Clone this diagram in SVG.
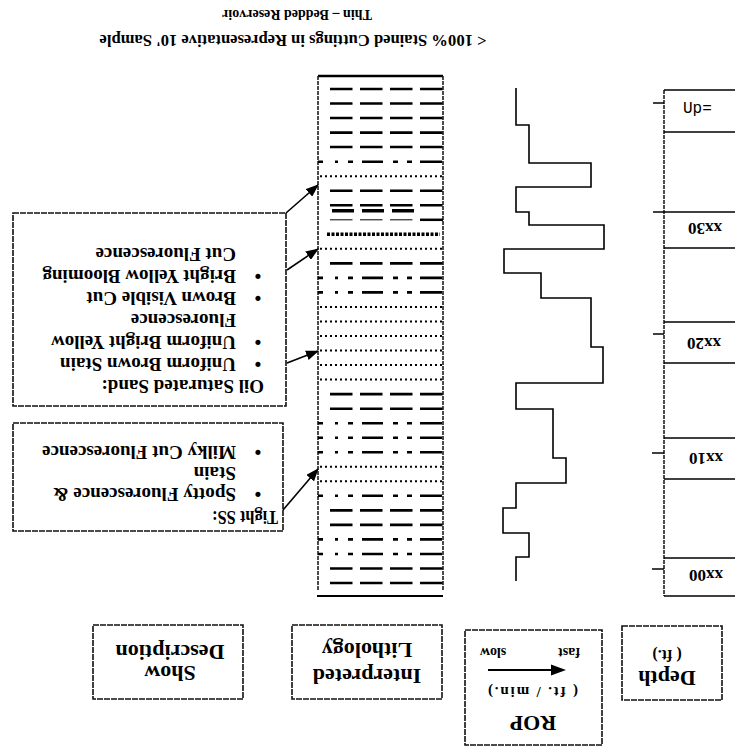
<svg xmlns="http://www.w3.org/2000/svg" width="735" height="747" viewBox="0 0 735 747">
<style>
.t{font-family:"Liberation Serif","Times New Roman",serif;font-weight:bold;fill:#000}
.b{font-size:19px}
.h{font-size:22px}
.box{fill:#fff;stroke:#111;stroke-width:1.6;stroke-dasharray:6 1}
.ln{fill:none;stroke:#000}
.bd{fill:none;stroke:#111;stroke-width:1.5;stroke-dasharray:4 1}
.con{fill:none;stroke:#000;stroke-width:1.6}
</style>
<defs>
<marker id="ah" markerWidth="13" markerHeight="10" refX="12" refY="5" orient="auto" markerUnits="userSpaceOnUse"><path d="M0,0 L13,5 L0,10 z" fill="#000"/></marker>
<g id="rD"><line class="ln" x1="330" x2="443" y1="0" y2="0" stroke-width="2.6" stroke-dasharray="22.5 7.5"/></g>
<g id="rS"><line class="ln" x1="318" x2="442" y1="0" y2="0" stroke-width="2.6" stroke-dasharray="5 12 3 10 5 9 21 10 5 9 5 8 22"/></g>
<g id="rP"><line class="ln" x1="320" x2="442" y1="0" y2="0" stroke-width="2" stroke-dasharray="2 3"/></g>
</defs>
<rect width="735" height="747" fill="#fff"/>

<g id="title">
<text class="t" font-size="17" text-anchor="middle" x="293" y="34.5" textLength="387" lengthAdjust="spacingAndGlyphs" transform="rotate(180 293 34.5)">&lt; 100% Stained Cuttings in Representative 10' Sample</text>
<text class="t" font-size="14" text-anchor="middle" x="297" y="9.5" transform="rotate(180 297 9.5)">Thin – Bedded Reservoir</text>
</g>

<g id="depth-column">
<line class="bd" x1="664" y1="90" x2="664" y2="596"/>
<g class="ln" stroke-width="1.5">
<line x1="664" y1="90" x2="735" y2="90"/>
<line x1="664" y1="132" x2="735" y2="132"/>
<line x1="664" y1="212" x2="735" y2="212"/>
<line x1="664" y1="248" x2="735" y2="248"/>
<line x1="664" y1="322" x2="735" y2="322"/>
<line x1="664" y1="363" x2="735" y2="363"/>
<line x1="664" y1="438" x2="735" y2="438"/>
<line x1="664" y1="479" x2="735" y2="479"/>
<line x1="664" y1="558" x2="735" y2="558"/>
<line x1="664" y1="596" x2="735" y2="596"/>
<line x1="653" y1="103" x2="664" y2="103"/>
<line x1="653" y1="212" x2="664" y2="212"/>
<line x1="653" y1="334" x2="664" y2="334"/>
<line x1="652" y1="453" x2="664" y2="453"/>
<line x1="652" y1="569" x2="664" y2="569"/>
</g>
<text x="683" y="113" font-family="'Liberation Mono','Courier New',monospace" font-size="16" fill="#000">Up=</text>
<text class="t" font-size="17" x="722" y="223" transform="rotate(180 722 223)">xx30</text>
<text class="t" font-size="17" x="721" y="338" transform="rotate(180 721 338)">xx20</text>
<text class="t" font-size="17" x="723" y="453" transform="rotate(180 723 453)">xx10</text>
<text class="t" font-size="17" x="723" y="570" transform="rotate(180 723 570)">xx00</text>
</g>

<g id="rop-curve">
<polyline class="ln" stroke-width="1.6" points="516,88 516,125 529,125 529,163 591,163 591,187 516,187 516,212 529,212 529,225 604,225 604,249 504,249 504,273 541,273 541,298 591,298 591,347 603,347 603,383 516,383 516,409 553,409 553,458 566,458 566,483 516,483 516,508 503,508 503,533 529,533 529,557 516,557 516,581"/>
</g>

<g id="lithology-column">
<line class="ln" x1="318" y1="76" x2="443" y2="76" stroke-width="2.5"/>
<line class="bd" x1="318" y1="76" x2="318" y2="590"/>
<line class="bd" x1="443" y1="76" x2="443" y2="590"/>
<line class="ln" x1="317" y1="596" x2="443" y2="596" stroke-width="1.8"/>
<use href="#rD" y="89"/>
<use href="#rD" y="103.5"/>
<use href="#rD" y="118"/>
<use href="#rD" y="132.6"/>
<use href="#rD" y="147"/>
<use href="#rS" y="161.7"/>
<use href="#rP" y="176.2"/>
<use href="#rD" y="190.7"/>
<use href="#rD" y="205.2"/>
<line class="ln" x1="332" x2="415" y1="210.8" y2="210.8" stroke-width="3.5" stroke-dasharray="22 8"/>
<line class="ln" x1="330" x2="413" y1="219.8" y2="219.8" stroke="#ccc" stroke-width="1" stroke-dasharray="22.5 7.5"/>
<line class="ln" x1="420" x2="443" y1="219.8" y2="219.8" stroke-width="2.5"/>
<line class="ln" x1="327" x2="440" y1="234.3" y2="234.3" stroke-width="3.5" stroke-dasharray="3 1.5"/>
<use href="#rP" y="248.8"/>
<use href="#rD" y="263.4"/>
<use href="#rS" y="277.9"/>
<use href="#rS" y="292.4"/>
<use href="#rP" y="307"/>
<use href="#rP" y="321.5"/>
<use href="#rP" y="336"/>
<use href="#rP" y="350.5"/>
<use href="#rP" y="365.1"/>
<use href="#rP" y="379.6"/>
<use href="#rD" y="394.1"/>
<use href="#rD" y="408.7"/>
<use href="#rS" y="423.2"/>
<use href="#rS" y="437.7"/>
<use href="#rS" y="452.3"/>
<use href="#rP" y="466.8"/>
<use href="#rP" y="481.3"/>
<use href="#rS" y="495.8"/>
<use href="#rD" y="510.4"/>
<use href="#rD" y="524.9"/>
<use href="#rS" y="539.4"/>
<use href="#rS" y="554"/>
<use href="#rD" y="568.5"/>
<use href="#rD" y="583"/>
</g>

<g id="show-oil-sand">
<rect class="box" x="13" y="213" width="273" height="193"/>
<text class="t b" x="264" y="380" transform="rotate(180 264 380)">Oil Saturated Sand:</text>
<text class="t b" text-anchor="middle" x="258" y="358" transform="rotate(180 258 358)">•</text>
<text class="t b" x="236" y="358" transform="rotate(180 236 358)">Uniform Brown Stain</text>
<text class="t b" text-anchor="middle" x="258" y="336" transform="rotate(180 258 336)">•</text>
<text class="t b" x="236" y="336" transform="rotate(180 236 336)">Uniform Bright Yellow</text>
<text class="t b" x="236" y="314" transform="rotate(180 236 314)">Fluorescence</text>
<text class="t b" text-anchor="middle" x="258" y="292" transform="rotate(180 258 292)">•</text>
<text class="t b" x="236" y="292" transform="rotate(180 236 292)">Brown Visible Cut</text>
<text class="t b" text-anchor="middle" x="258" y="270" transform="rotate(180 258 270)">•</text>
<text class="t b" x="236" y="270" transform="rotate(180 236 270)">Bright Yellow Blooming</text>
<text class="t b" x="236" y="248" transform="rotate(180 236 248)">Cut Fluorescence</text>
</g>

<g id="show-tight-ss">
<rect class="box" x="13" y="423" width="270" height="108"/>
<text class="t b" x="278" y="511" textLength="66" lengthAdjust="spacingAndGlyphs" transform="rotate(180 278 511)">Tight SS:</text>
<text class="t b" text-anchor="middle" x="258" y="488" transform="rotate(180 258 488)">•</text>
<text class="t b" x="236" y="488" transform="rotate(180 236 488)">Spotty Fluorescence &amp;</text>
<text class="t b" x="236" y="467" transform="rotate(180 236 467)">Stain</text>
<text class="t b" text-anchor="middle" x="258" y="446" transform="rotate(180 258 446)">•</text>
<text class="t b" x="236" y="446" transform="rotate(180 236 446)">Milky Cut Fluorescence</text>
</g>

<g id="connectors">
<line class="con" x1="286" y1="213" x2="318" y2="185" marker-end="url(#ah)"/>
<line class="con" x1="287" y1="270" x2="318" y2="249" marker-end="url(#ah)"/>
<line class="con" x1="287" y1="363" x2="318" y2="351" marker-end="url(#ah)"/>
<line class="con" x1="283" y1="510" x2="318" y2="469" marker-end="url(#ah)"/>
</g>

<g id="header-show">
<rect class="box" x="93" y="625" width="150" height="74"/>
<text class="t h" text-anchor="middle" x="170" y="645" transform="rotate(180 170 645)">Description</text>
<text class="t h" text-anchor="middle" x="170" y="666" transform="rotate(180 170 666)">Show</text>
</g>

<g id="header-lithology">
<rect class="box" x="292" y="625" width="150" height="74"/>
<text class="t h" text-anchor="middle" x="367" y="643" transform="rotate(180 367 643)">Lithology</text>
<text class="t h" text-anchor="middle" x="367" y="669" transform="rotate(180 367 669)">Interpreted</text>
</g>

<g id="header-rop">
<rect class="box" x="465" y="630" width="137" height="115"/>
<text class="t h" text-anchor="middle" x="533" y="716" transform="rotate(180 533 716)">ROP</text>
<text class="t" font-size="15" text-anchor="middle" textLength="90" x="533" y="687" transform="rotate(180 533 687)">( ft. / min.)</text>
<line class="ln" x1="488" y1="670" x2="554" y2="670" stroke-width="1.8"/>
<polygon points="566,670 551,664.5 551,675.5" fill="#000"/>
<text class="t" font-size="14" text-anchor="middle" x="493" y="648" transform="rotate(180 493 648)">slow</text>
<text class="t" font-size="14" text-anchor="middle" x="569" y="648" transform="rotate(180 569 648)">fast</text>
</g>

<g id="header-depth">
<rect class="box" x="622" y="626" width="100" height="74"/>
<text class="t h" text-anchor="middle" x="667" y="671" transform="rotate(180 667 671)">Depth</text>
<text class="t" font-size="16" text-anchor="middle" x="667" y="650" transform="rotate(180 667 650)">( ft.)</text>
</g>
</svg>
